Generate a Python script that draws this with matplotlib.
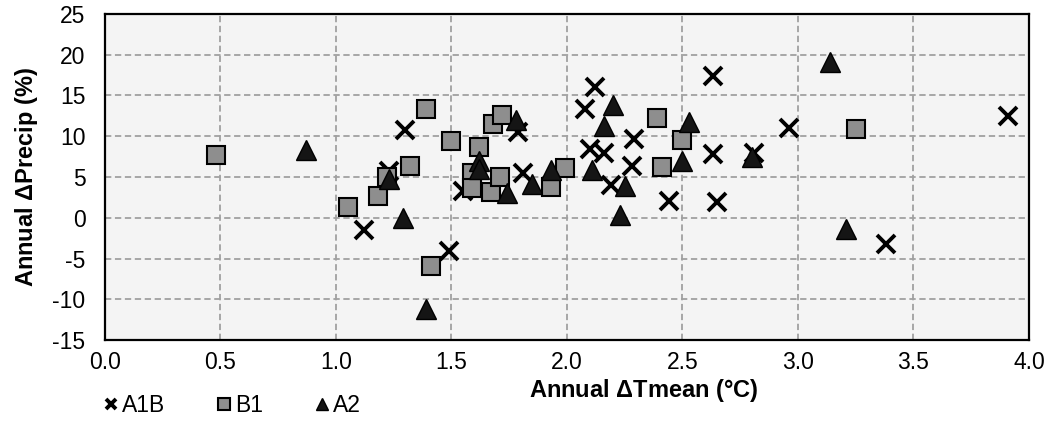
import numpy as np
import matplotlib
matplotlib.use('Agg')
import matplotlib.pyplot as plt

plt.rcParams['font.family'] = ['Liberation Sans', 'DejaVu Sans']
plt.rcParams['axes.unicode_minus'] = False

# scenario data: annual change in mean temperature (C) vs precipitation (%)
a1b_t = [1.12, 1.23, 1.30, 1.49, 1.55, 1.79, 1.81, 2.08, 2.12, 2.10, 2.16, 2.19,
         2.28, 2.29, 2.44, 2.63, 2.63, 2.65, 2.81, 2.96, 3.38, 3.91]
a1b_p = [-1.5, 5.8, 10.8, -4.1, 3.3, 10.5, 5.5, 13.4, 16.1, 8.4, 7.9, 4.0,
         6.4, 9.7, 2.0, 17.4, 7.8, 1.9, 7.9, 11.0, -3.2, 12.5]

b1_t = [0.48, 1.05, 1.18, 1.22, 1.32, 1.39, 1.41, 1.50, 1.59, 1.59, 1.62, 1.67,
        1.68, 1.71, 1.72, 1.93, 1.99, 2.39, 2.41, 2.50, 3.25]
b1_p = [7.7, 1.3, 2.7, 5.0, 6.3, 13.3, -5.9, 9.4, 5.5, 3.6, 8.7, 3.2,
        11.5, 5.0, 12.6, 3.8, 6.1, 12.2, 6.2, 9.5, 10.9]

a2_t = [0.87, 1.23, 1.29, 1.39, 1.62, 1.62, 1.74, 1.78, 1.85, 1.93, 2.11, 2.16,
        2.20, 2.23, 2.25, 2.50, 2.53, 2.80, 3.14, 3.21]
a2_p = [8.3, 4.8, 0.0, -11.2, 7.0, 6.0, 3.0, 12.0, 4.1, 5.9, 5.9, 11.2,
        13.8, 0.4, 3.9, 7.0, 11.8, 7.5, 19.1, -1.4]

xticks = np.arange(0, 4.01, 0.5)
yticks = np.arange(-15, 26, 5)

fig = plt.figure(figsize=(10.49, 4.23), dpi=100)
ax = fig.add_axes([0.1001, 0.196, 0.8808, 0.771])
ax.set_facecolor('#f4f4f4')

ax.plot(a1b_t, a1b_p, 'x', color='black', ms=13, mew=2.8, label='A1B', zorder=3)
ax.plot(b1_t, b1_p, 's', mfc='#8e8e8e', mec='black', ms=13.5, mew=1.5, label='B1', zorder=3)
ax.plot(a2_t, a2_p, '^', mfc='#151515', mec='black', ms=14, mew=1, label='A2', zorder=3)

ax.set_xlim(0, 4)
ax.set_ylim(-15, 25)
ax.set_xticks(xticks)
ax.set_yticks(yticks)
ax.set_xticklabels(['%.1f' % v for v in xticks])
ax.tick_params(length=0, labelsize=16.5)
ax.tick_params(axis='x', pad=8)
ax.tick_params(axis='y', pad=14)
ax.grid(True, ls=(0, (3.5, 2)), color='#a0a0a0', lw=1.3, zorder=0)
ax.set_axisbelow(True)
for s in ax.spines.values():
    s.set_linewidth(1.6)
    s.set_color('black')

ax.set_xlabel('Annual $\\mathregular{\\Delta}$Tmean (\u00b0C)', fontsize=17, fontweight='bold')
ax.xaxis.label.set_va('center')
ax.xaxis.set_label_coords(0.583, -0.155)
ax.set_ylabel('Annual $\\mathregular{\\Delta}$Precip (%)', fontsize=17, fontweight='bold')
ax.yaxis.set_label_coords(-0.07, 0.5)

leg = ax.legend(loc='center left', bbox_to_anchor=(0.0, -0.2), ncol=3, frameon=False,
                fontsize=16.5, handletextpad=0.2, columnspacing=2.3, markerscale=0.6,
                handlelength=0.55, borderaxespad=0, borderpad=0)

fig.savefig('out.png', dpi=100)
